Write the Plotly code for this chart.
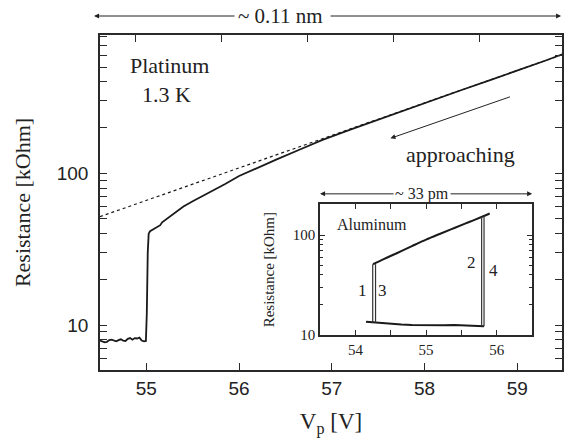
import math
import plotly.graph_objects as go

# ---- main panel: platinum junction, 1.3 K ----
v_pt = [54.500, 54.525, 54.550, 54.575, 54.600, 54.625, 54.650, 54.675, 54.700,
        54.725, 54.750, 54.775, 54.800, 54.825, 54.850, 54.875, 54.900, 54.925,
        54.950, 54.975, 54.995, 55.005, 55.015, 55.025, 55.040, 55.080, 55.120,
        55.150, 55.170, 55.200, 55.250, 55.300, 55.400, 55.500, 55.620, 55.750,
        55.850, 56.000, 56.200, 56.400, 56.650, 56.900, 57.200, 57.500, 57.800,
        58.100, 58.400, 58.700, 59.000, 59.300, 59.490]
r_pt = [7.9, 7.8, 7.7, 7.75, 7.95, 8.0, 7.85, 7.8, 7.95,
        8.05, 7.9, 7.85, 8.1, 8.2, 8.0, 8.2, 8.15, 8.25,
        7.9, 7.8, 7.85, 12.0, 30.0, 40.0, 41.5, 43.0, 44.2,
        45.5, 47.5, 49.0, 51.5, 54.5, 60.5, 65.5, 71.5, 78.5,
        85.0, 96.0, 108.0, 123.0, 143.0, 166.0, 194.0, 226.0, 263.0,
        305.0, 354.0, 410.0, 474.0, 552.0, 610.0]

# exponential fit of the tunnelling regime (straight on a log axis)
v_fit = [54.50, 59.49]
r_fit = [51.8, 606.0]

# ---- inset: aluminum, hysteresis loop ----
v_al_low = [54.15, 54.25, 54.35, 54.50, 54.65, 54.80, 54.95, 55.10, 55.25,
            55.40, 55.55, 55.70, 55.82]
r_al_low = [13.6, 13.4, 13.1, 12.9, 12.7, 12.6, 12.5, 12.6, 12.5,
            12.6, 12.4, 12.3, 12.2]
v_al_up = [54.25, 54.40, 54.60, 54.80, 55.00, 55.20, 55.40, 55.60, 55.80, 55.90]
r_al_up = [51.0, 57.5, 66.5, 77.5, 90.0, 103.0, 117.5, 134.0, 153.0, 164.0]
# jumps (label, voltage, low R, high R)
jumps = [("1", 54.245, 13.4, 51.0),
         ("3", 54.285, 13.3, 51.0),
         ("2", 55.786, 12.2, 151.0),
         ("4", 55.820, 12.2, 157.0)]
jump_labels = {"1": (54.10, 27.7), "3": (54.39, 27.7),
               "2": (55.64, 52.5), "4": (55.95, 44.0)}

# top scale of the main panel (displacement, pm)
top_ticks = [0, 20, 40, 60, 80]

INK = "#1a1a1a"
SERIF = "Liberation Serif, Times New Roman, serif"
SANS = "Liberation Sans, Arial, sans-serif"

fig = go.Figure()

fig.add_trace(go.Scatter(x=v_fit, y=r_fit, mode="lines",
                         line=dict(color=INK, width=1.2, dash="dot"),
                         showlegend=False, hoverinfo="skip"))
fig.add_trace(go.Scatter(x=v_pt, y=r_pt, mode="lines",
                         line=dict(color=INK, width=1.8),
                         showlegend=False))
fig.add_trace(go.Scatter(x=top_ticks, y=[None] * len(top_ticks), xaxis="x2",
                         yaxis="y", mode="lines", showlegend=False,
                         hoverinfo="skip"))

fig.add_trace(go.Scatter(x=v_al_low, y=r_al_low, mode="lines",
                         line=dict(color=INK, width=2.0),
                         xaxis="x3", yaxis="y3", showlegend=False))
fig.add_trace(go.Scatter(x=v_al_up, y=r_al_up, mode="lines",
                         line=dict(color=INK, width=2.0, shape="spline"),
                         xaxis="x3", yaxis="y3", showlegend=False))
for name, v, lo, hi in jumps:
    fig.add_trace(go.Scatter(x=[v, v], y=[lo, hi], mode="lines",
                             line=dict(color="#333333", width=1.2),
                             xaxis="x3", yaxis="y3", showlegend=False,
                             name=name))

main_minor = [6, 7, 8, 9, 20, 30, 40, 50, 60, 70, 80, 90,
              200, 300, 400, 500, 600, 700, 800]
inset_minor = [20, 30, 40, 50, 60, 70, 80, 90, 200]

axis_line = dict(showline=True, linecolor="#2a2a2a", linewidth=1.6,
                 showgrid=False, zeroline=False)

fig.update_layout(
    width=564, height=439,
    margin=dict(l=100, r=0, t=35, b=69),
    paper_bgcolor="white", plot_bgcolor="white",
    xaxis=dict(**axis_line, range=[54.5, 59.483], tickvals=[55, 56, 57, 58, 59],
               ticks="inside", ticklen=7, tickwidth=1.4, tickcolor="#2a2a2a",
               mirror=True,
               tickfont=dict(family=SANS, size=19, color="#222222"),
               title=dict(text="V<sub>p</sub> [V]", standoff=15,
                          font=dict(family=SERIF, size=23, color="#222222"))),
    xaxis2=dict(overlaying="x", side="top", anchor="y", range=[-8.27, 99.3],
                tickvals=top_ticks, ticks="inside", ticklen=7, tickwidth=1.4,
                tickcolor="#2a2a2a", showticklabels=False, showgrid=False,
                zeroline=False, showline=False),
    yaxis=dict(**axis_line, type="log", range=[0.7034, 2.9117],
               tickvals=[10, 100], ticktext=["10", "100"],
               ticks="inside", ticklen=7, tickwidth=1.4, tickcolor="#2a2a2a",
               mirror="allticks", ticklabelstandoff=6,
               minor=dict(tickvals=main_minor, ticks="inside", ticklen=4,
                          tickwidth=1.2, tickcolor="#2a2a2a", showgrid=False),
               tickfont=dict(family=SANS, size=19, color="#222222"),
               title=dict(text="Resistance [kOhm]", standoff=20,
                          font=dict(family=SERIF, size=22, color="#222222"))),
    xaxis3=dict(**axis_line, domain=[0.4763, 0.9353], anchor="y3",
                range=[53.5, 56.5], tickvals=[54, 55, 56], ticks="inside",
                ticklen=5, tickwidth=1.2, tickcolor="#2a2a2a", mirror="allticks",
                minor=dict(tickvals=[53.5, 54.5, 55.5, 56.5], ticks="inside",
                           ticklen=5, tickwidth=1.2, tickcolor="#2a2a2a",
                           showgrid=False),
                tickfont=dict(family=SERIF, size=15, color="#222222")),
    yaxis3=dict(**axis_line, domain=[0.1045, 0.4946], anchor="x3", type="log",
                range=[1.0, 2.307], tickvals=[10, 100], ticktext=["10", "100"],
                ticks="inside", ticklen=5, tickwidth=1.2, tickcolor="#2a2a2a",
                mirror="allticks",
                minor=dict(tickvals=inset_minor, ticks="inside", ticklen=3,
                           tickwidth=1.0, tickcolor="#2a2a2a", showgrid=False),
                tickfont=dict(family=SERIF, size=15, color="#222222"),
                title=dict(text="Resistance [kOhm]", standoff=14,
                           font=dict(family=SERIF, size=15, color="#222222"))),
)

ann = []
txt = dict(family=SERIF, color="#222222")
centered = dict(xanchor="center", yanchor="middle", showarrow=False)
arrow = dict(showarrow=True, arrowhead=2, arrowsize=1, arrowwidth=1,
             arrowcolor="#222222")

# distance bar above the main panel
ann.append(dict(text="~ 0.11 nm", x=0.3916, y=1.0567, xref="paper", yref="paper",
                font=dict(**txt, size=21), **centered))
ann.append(dict(text="", x=-0.0129, y=1.0567, xref="paper", yref="paper",
                ax=142, ay=0, **arrow))
ann.append(dict(text="", x=0.998, y=1.0567, xref="paper", yref="paper",
                ax=-232, ay=0, **arrow))

ann.append(dict(text="Platinum", x=0.1509, y=0.9104, xref="paper", yref="paper",
                font=dict(**txt, size=22), **centered))
ann.append(dict(text="1.3 K", x=0.1437, y=0.8209, xref="paper", yref="paper",
                font=dict(**txt, size=22), **centered))
ann.append(dict(text="approaching", x=0.7795, y=0.6418, xref="paper", yref="paper",
                font=dict(**txt, size=22), **centered))
ann.append(dict(text="", x=0.6287, y=0.6916, xref="paper", yref="paper",
                ax=121, ay=-42, **arrow))

# inset texts
ann.append(dict(text="Aluminum", x=0.244, y=0.8417, xref="x3 domain",
                yref="y3 domain", font=dict(**txt, size=16), **centered))
ann.append(dict(text="~ 33 pm", x=0.479, y=1.08, xref="x3 domain",
                yref="y3 domain", font=dict(**txt, size=16), **centered))
ann.append(dict(text="", x=0.0, y=1.08, xref="x3 domain", yref="y3 domain",
                ax=75, ay=0, **arrow))
ann.append(dict(text="", x=1.0, y=1.08, xref="x3 domain", yref="y3 domain",
                ax=-83, ay=0, **arrow))
for name, (lx, ly) in jump_labels.items():
    ann.append(dict(text=name, x=lx, y=math.log10(ly), xref="x3", yref="y3",
                    font=dict(**txt, size=17), **centered))

fig.update_layout(annotations=ann)
fig.write_html("out.html")
